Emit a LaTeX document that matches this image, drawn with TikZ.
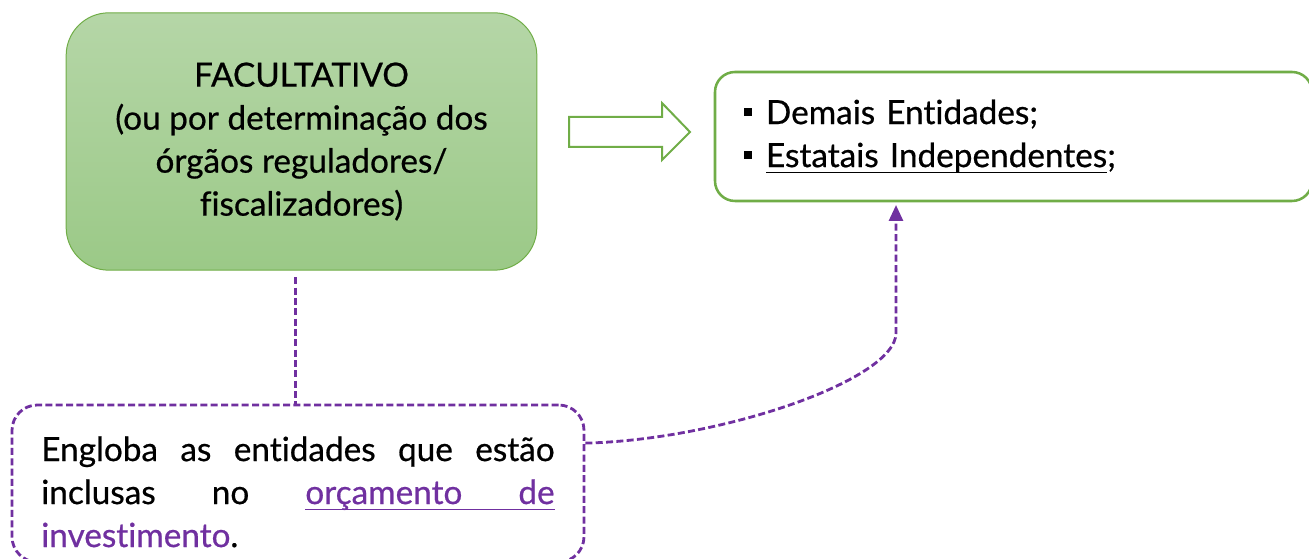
\documentclass[tikz,border=0pt]{standalone}
\usepackage{fontspec}
\setmainfont{Lato}[Ligatures=NoCommon,FakeBold=0.6]
\usepackage{xcolor}
\usetikzlibrary{arrows.meta,positioning}
\definecolor{verde}{HTML}{70AD47}
\definecolor{verdeclaro}{HTML}{B5D6A7}
\definecolor{verdeescuro}{HTML}{9BC987}
\definecolor{roxo}{HTML}{7030A0}
\newcommand{\quadrado}{\rule[0.24em]{0.24em}{0.24em}\hspace{0.42em}}
\newcommand{\sublinha}[1]{\setbox0\hbox{#1}\rlap{\rule[-4.8pt]{\wd0}{1.2pt}}\box0}
\newcommand{\vaolinha}{\leaders\hrule height -3.6pt depth 4.8pt\hfill}

\begin{document}
\begin{tikzpicture}[x=0.75pt,y=-0.75pt,>={Triangle[width=10.5pt,length=12pt]},semithick]
	\tikzstyle{fonte}=[font=\fontsize{25}{32.25}\selectfont]
	\tikzstyle{caixa}=[fonte,draw=verde,line width=0.75pt,rounded corners=32pt,top color=verdeclaro,bottom color=verdeescuro,align=center,inner sep=0pt]
	\tikzstyle{lista}=[fonte,draw=verde,line width=1.9pt,rounded corners=15pt,fill=white,align=left,inner xsep=21.75pt,inner ysep=0pt]
	\tikzstyle{nota}=[fonte,draw=roxo,line width=2.1pt,dash pattern=on 5.25pt off 2.5pt,rounded corners=19pt,align=left,inner xsep=22pt,inner ysep=0pt]
	\tikzstyle{tracejado}=[draw=roxo,line width=2.1pt,dash pattern=on 5.25pt off 2.5pt]
	\tikzstyle{seta}=[draw=verde,line width=1.5pt,fill=white,line join=miter]
	\useasboundingbox (0,0) rectangle (1309,559);
	\node[caixa,minimum width=353pt,minimum height=193pt] (fac) at (301.5,141.5)
		{FACULTATIVO\\(ou por determinação dos\\órgãos reguladores/\\fiscalizadores)};
	\node[lista,text width=404.25pt,minimum height=96.75pt] (ent) at (1013.5,136.5)
		{\quadrado Demais Entidades;\\\quadrado \sublinha{Estatais Independentes};};
	\node[nota,text width=385pt,minimum height=117.75pt] (eng) at (298,483.5)
		{\rule{0pt}{31pt}\hbox to\linewidth{Engloba\hfill as\hfill entidades\hfill que\hfill estão}\\
		\leavevmode\hbox to\linewidth{inclusas\hfill no\hfill\color{roxo}\sublinha{orçamento}\vaolinha\sublinha{de}}\\
		\textcolor{roxo}{investimento}.};
	% seta larga entre as caixas
	\draw[seta] (569,117) -- (662,117) -- (662,103) -- (690,132) -- (662,160) -- (662,147) -- (569,147) -- cycle;
	\coordinate (alvo) at (896,205);
	\path ([xshift=-4.5pt,yshift=-5pt]fac.south) edge[tracejado] ([xshift=-4.5pt]fac.south |- eng.north);
	\draw[tracejado,->] (eng.8) .. controls (720,440) and (896,380) .. (896,333) -- (alvo);
\end{tikzpicture}
\end{document}
